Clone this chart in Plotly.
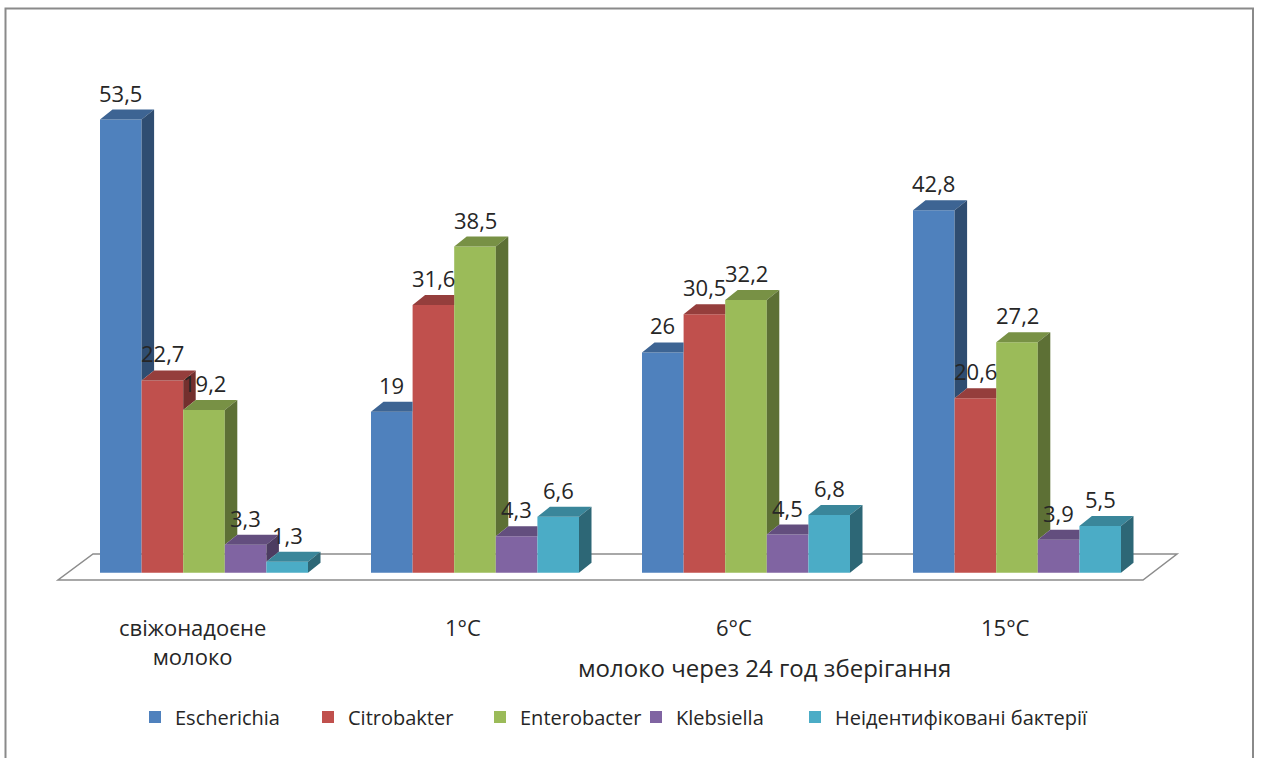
import plotly.graph_objects as go

# ---------------- data ----------------
categories = ["свіжонадоєне<br>молоко", "1°C", "6°C", "15°C"]
axis_title = "молоко через 24 год зберігання"
series_names = ["Escherichia", "Citrobakter", "Enterobacter", "Klebsiella",
                "Неідентифіковані бактерії"]
escherichia = [53.5, 19, 26, 42.8]
citrobakter = [22.7, 31.6, 30.5, 20.6]
enterobacter = [19.2, 38.5, 32.2, 27.2]
klebsiella = [3.3, 4.3, 4.5, 3.9]
unidentified = [1.3, 6.6, 6.8, 5.5]
series_values = [escherichia, citrobakter, enterobacter, klebsiella, unidentified]

colors = ["#4F81BD", "#C0504D", "#9BBB59", "#8064A2", "#4BACC6"]

# ---------------- geometry (pixel calibration) ----------------
W, H = 1261, 758
GROUP_PX = 271.0        # distance between group centres in px
FIRST_CENTER_PX = 204.0
BASE_PX = 572.7         # pixel row of value 0
PX_PER_UNIT = 8.47
BAR_PX = 41.6
DEPTH_DX_PX, DEPTH_DY_PX = 12.5, 10.0
LEGEND_TEXT_PX = [173, 346, 518, 674, 833]   # left edge of each legend entry's text

x_range = [-FIRST_CENTER_PX / GROUP_PX, (W - FIRST_CENTER_PX) / GROUP_PX]
y_range = [(BASE_PX - H) / PX_PER_UNIT, BASE_PX / PX_PER_UNIT]
BW = BAR_PX / GROUP_PX
DX = DEPTH_DX_PX / GROUP_PX
DY = DEPTH_DY_PX / PX_PER_UNIT


def px2x(px):
    return (px - FIRST_CENTER_PX) / GROUP_PX


def px2y(py):
    return (BASE_PX - py) / PX_PER_UNIT


def shade(hexcol, f):
    h = hexcol.lstrip("#")
    r, g, b = (int(h[i:i + 2], 16) for i in (0, 2, 4))
    return "rgb({},{},{})".format(int(r * f), int(g * f), int(b * f))


def fmt(v):
    return ("%g" % v).replace(".", ",")


fig = go.Figure()

n_series = len(series_values)
n_groups = len(categories)
legend_ids = ["legend"] + ["legend%d" % (i + 1) for i in range(1, n_series)]

# front faces
for s in range(n_series):
    xs = [g + (s - (n_series - 1) / 2) * BW for g in range(n_groups)]
    fig.add_trace(go.Bar(
        x=xs, y=series_values[s], width=BW, name=series_names[s],
        legend=legend_ids[s],
        marker=dict(color=colors[s], line=dict(width=0)),
        hovertemplate="%{y}<extra>" + series_names[s] + "</extra>"))

# 3D top and side faces (computed from data)
for s in range(n_series):
    tx, ty, sx, sy = [], [], [], []
    for g in range(n_groups):
        v = series_values[s][g]
        nxt = series_values[s + 1][g] if s + 1 < n_series else None
        xc = g + (s - (n_series - 1) / 2) * BW
        xl, xr = xc - BW / 2, xc + BW / 2
        if nxt is not None and nxt > v:
            tx += [xl, xr, xr, xl + DX, xl, None]
            ty += [v, v, v + DY, v + DY, v, None]
        else:
            tx += [xl, xr, xr + DX, xl + DX, xl, None]
            ty += [v, v, v + DY, v + DY, v, None]
        if nxt is None:
            base = 0
        elif nxt < v:
            base = nxt
        else:
            base = None
        if base is not None:
            sx += [xr, xr + DX, xr + DX, xr, xr, None]
            sy += [base, base + DY, v + DY, v, base, None]
    fig.add_trace(go.Scatter(x=tx, y=ty, mode="lines", fill="toself",
                             fillcolor=shade(colors[s], 0.78),
                             line=dict(width=0, color=shade(colors[s], 0.78)),
                             showlegend=False, hoverinfo="skip"))
    fig.add_trace(go.Scatter(x=sx, y=sy, mode="lines", fill="toself",
                             fillcolor=shade(colors[s], 0.6),
                             line=dict(width=0, color=shade(colors[s], 0.6)),
                             showlegend=False, hoverinfo="skip"))

annotations = []
# data labels
for s in range(n_series):
    for g in range(n_groups):
        v = series_values[s][g]
        xc = g + (s - (n_series - 1) / 2) * BW
        annotations.append(dict(x=xc, y=v, text=fmt(v), showarrow=False,
                                xref="x", yref="y", yanchor="middle", yshift=27,
                                font=dict(family="Open Sans", size=22, color="#262626")))
# category labels
for g, cat in enumerate(categories):
    annotations.append(dict(x=g, y=px2y(625), text=cat, showarrow=False,
                            xref="x", yref="y", yanchor="top", xshift=-12, yshift=15,
                            font=dict(family="Open Sans", size=22, color="#262626")))
annotations.append(dict(x=765 / W, y=1 - 667 / H, xref="paper", yref="paper",
                        text=axis_title, showarrow=False, yanchor="middle",
                        font=dict(family="Open Sans", size=24, color="#262626")))

# floor parallelogram
floor = [(px2x(58), px2y(580)), (px2x(1143), px2y(580)),
         (px2x(1177), px2y(554)), (px2x(93), px2y(554))]
path = "M " + " L ".join("{},{}".format(a, b) for a, b in floor) + " Z"
shapes = [
    dict(type="path", path=path, xref="x", yref="y", layer="below",
         fillcolor="white", line=dict(color="#8C8C8C", width=1.5)),
    dict(type="rect", xref="paper", yref="paper", x0=5.5 / W, x1=1253 / W,
         y0=-0.05, y1=1 - 8.5 / H, line=dict(color="#8A8A8A", width=2),
         fillcolor="rgba(0,0,0,0)", layer="below"),
]

layout = dict(
    width=W, height=H, margin=dict(l=0, r=0, t=0, b=0),
    paper_bgcolor="white", plot_bgcolor="rgba(0,0,0,0)",
    barmode="overlay", showlegend=True,
    xaxis=dict(range=x_range, visible=False, fixedrange=True),
    yaxis=dict(range=y_range, visible=False, fixedrange=True),
    annotations=annotations, shapes=shapes,
)
for s, lid in enumerate(legend_ids):
    layout[lid] = dict(orientation="h", x=(LEGEND_TEXT_PX[s] - 38) / W, xanchor="left",
                       y=1 - 717 / H, yanchor="middle",
                       font=dict(family="Open Sans", size=20, color="#262626"),
                       bgcolor="rgba(0,0,0,0)")
fig.update_layout(**layout)

fig.write_html("out.html")
